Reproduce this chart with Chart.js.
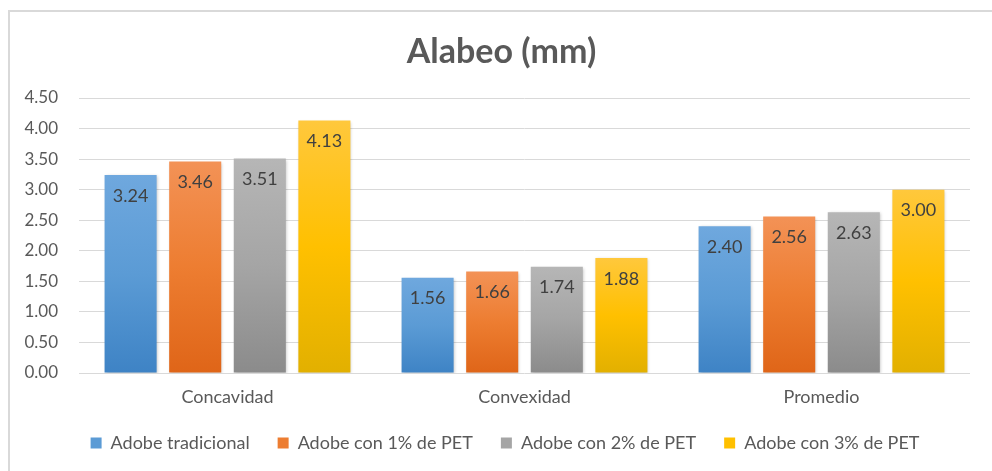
<!DOCTYPE html>
<html>
<head>
<meta charset="utf-8">
<script src="https://cdn.jsdelivr.net/npm/chart.js@4/dist/chart.umd.min.js"></script>
<style>
  html, body { margin: 0; padding: 0; background: #ffffff; overflow: hidden; }
  #wrap { position: relative; width: 992px; height: 471px; }
  #frame { position: absolute; left: 8px; top: 10px; width: 1000px; height: 500px;
           border: 2px solid #d9d9d9; box-sizing: border-box; pointer-events: none; }
  canvas { position: absolute; left: 0; top: 0; }
</style>
</head>
<body>
<div id="wrap">
  <div id="frame"></div>
  <canvas id="chart" width="992" height="471"></canvas>
</div>
<script>
// Warping measurements of adobe blocks, in millimetres
const categories = ['Concavidad', 'Convexidad', 'Promedio'];
const seriesNames = ['Adobe tradicional', 'Adobe con 1% de PET', 'Adobe con 2% de PET', 'Adobe con 3% de PET'];
const tradicional = [3.24, 1.56, 2.40];
const pet1 = [3.46, 1.66, 2.56];
const pet2 = [3.51, 1.74, 2.63];
const pet3 = [4.13, 1.88, 3.00];
const yTicks = [0, 0.5, 1, 1.5, 2, 2.5, 3, 3.5, 4, 4.5];

// light top, base middle, darker bottom for each series
const palettes = [
  { base: '#5b9bd5', top: '#6fa8de', bottom: '#3e83c5' },
  { base: '#ed7d31', top: '#f39256', bottom: '#df6518' },
  { base: '#a5a5a5', top: '#b6b6b6', bottom: '#8b8b8b' },
  { base: '#ffc000', top: '#ffc83c', bottom: '#e2b000' }
];

const FONT = 'Lato, "Open Sans", sans-serif';
const TEXT = '#595959';

function barGradient(pal) {
  return function (ctx) {
    const chart = ctx.chart;
    if (!chart.chartArea || ctx.raw === undefined) return pal.base;
    const ys = chart.scales.y;
    const yTop = ys.getPixelForValue(ctx.raw);
    const yBot = ys.getPixelForValue(0);
    if (!isFinite(yTop) || !isFinite(yBot) || yTop === yBot) return pal.base;
    const g = chart.ctx.createLinearGradient(0, yTop, 0, yBot);
    g.addColorStop(0, pal.top);
    g.addColorStop(0.5, pal.base);
    g.addColorStop(1, pal.bottom);
    return g;
  };
}

const seriesData = [tradicional, pet1, pet2, pet3];
const datasets = seriesData.map((values, i) => ({
  label: seriesNames[i],
  data: values,
  backgroundColor: barGradient(palettes[i]),
  borderWidth: 0,
  categoryPercentage: 0.87,
  barPercentage: 0.806
}));

// soft drop shadow under the bars
const barShadow = {
  id: 'barShadow',
  beforeDatasetsDraw(chart) {
    const c = chart.ctx;
    c.save();
    c.shadowColor = 'rgba(0,0,0,0.22)';
    c.shadowBlur = 3;
    c.shadowOffsetX = 1;
    c.shadowOffsetY = 1;
  },
  afterDatasetsDraw(chart) {
    chart.ctx.restore();
  }
};

// value labels just inside the top of each bar
const valueLabels = {
  id: 'valueLabels',
  afterDatasetsDraw(chart) {
    const c = chart.ctx;
    c.save();
    c.font = '18px ' + FONT;
    c.fillStyle = '#404040';
    c.textAlign = 'center';
    c.textBaseline = 'middle';
    chart.data.datasets.forEach((ds, di) => {
      const meta = chart.getDatasetMeta(di);
      meta.data.forEach((bar, i) => {
        c.fillText(Number(ds.data[i]).toFixed(2), bar.x, bar.y + 21);
      });
    });
    c.restore();
  }
};

// centre the title and legend row under the plot rather than the full canvas
const blockOffset = {
  id: 'blockOffset',
  afterLayout(chart) {
    if (chart.legend) chart.legend.left += 31;
    if (chart.titleBlock) chart.titleBlock.left += 24;
  }
};

new Chart(document.getElementById('chart'), {
  type: 'bar',
  data: { labels: categories, datasets },
  options: {
    responsive: false,
    animation: false,
    layout: { padding: { left: 9, right: 22, top: 0, bottom: 9 } },
    plugins: {
      title: {
        display: true,
        text: 'Alabeo (mm)',
        color: TEXT,
        font: { family: FONT, size: 34, weight: 'bold' },
        padding: { top: 31.6, bottom: 25.6 }
      },
      legend: {
        position: 'bottom',
        labels: {
          color: TEXT,
          font: { family: FONT, size: 18 },
          boxWidth: 11,
          boxHeight: 11,
          padding: 28,
          generateLabels(chart) {
            return chart.data.datasets.map((ds, i) => ({
              text: ds.label,
              fillStyle: palettes[i].base,
              strokeStyle: palettes[i].base,
              lineWidth: 0,
              datasetIndex: i,
              fontColor: TEXT
            }));
          }
        }
      },
      tooltip: { enabled: false }
    },
    scales: {
      x: {
        grid: { display: false, drawTicks: false },
        border: { display: false },
        ticks: { color: TEXT, font: { family: FONT, size: 18 }, padding: 13 },
        afterFit(scale) { scale.height = 33; }
      },
      y: {
        min: 0,
        max: 4.5,
        afterBuildTicks(scale) { scale.ticks = yTicks.map(v => ({ value: v })); },
        grid: { color: '#d9d9d9', lineWidth: 1, drawTicks: false },
        border: { display: false },
        ticks: {
          color: TEXT,
          font: { family: FONT, size: 17 },
          padding: 21,
          callback: v => Number(v).toFixed(2)
        },
        afterFit(scale) { scale.width = 70; }
      }
    }
  },
  plugins: [barShadow, valueLabels, blockOffset]
});
</script>
</body>
</html>
